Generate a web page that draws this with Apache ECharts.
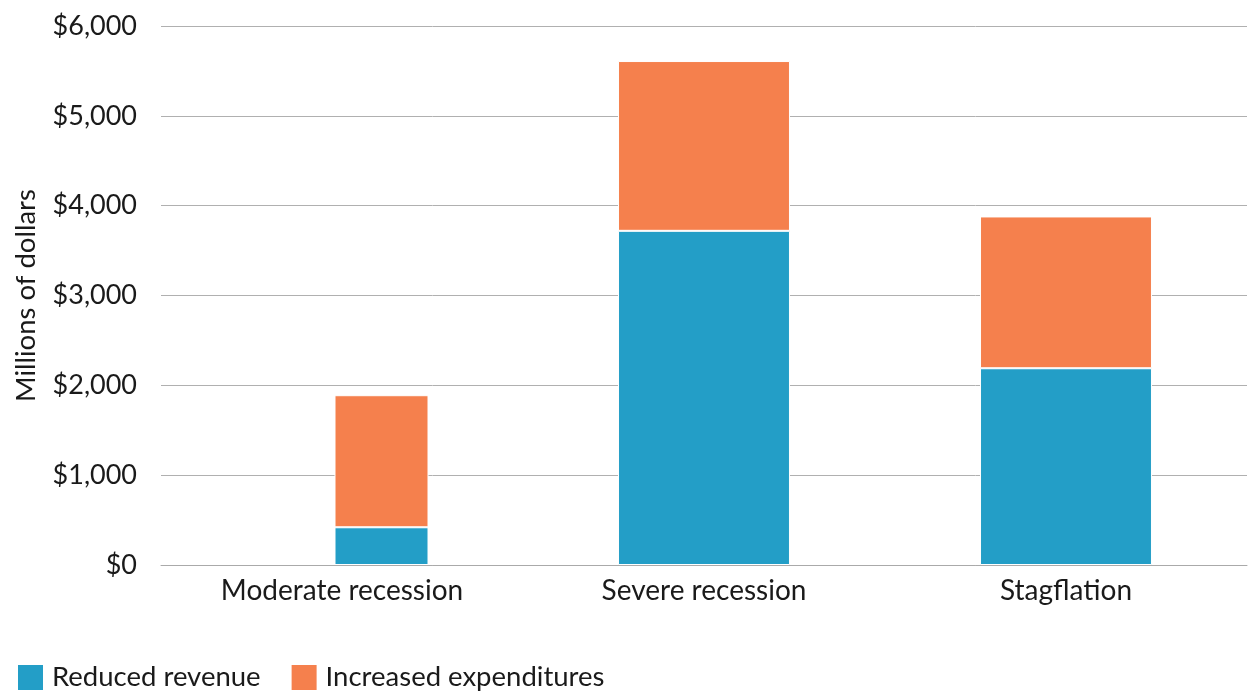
<!DOCTYPE html>
<html>
<head>
<meta charset="utf-8">
<style>
  html, body { margin: 0; padding: 0; background: #fff; }
  #chart { width: 1248px; height: 691px; }
</style>
<script src="https://cdn.jsdelivr.net/npm/echarts@6/dist/echarts.min.js"></script>
</head>
<body>
<div id="chart"></div>
<script>
// Budget impact by scenario, millions of dollars
const categories = ['Moderate recession', 'Severe recession', 'Stagflation'];
const reducedRevenue = [420, 3720, 2190];
const increasedExpenditures = [1470, 1890, 1690];
const yTicks = [0, 1000, 2000, 3000, 4000, 5000, 6000];

const BLUE = '#239ec7';
const ORANGE = '#f5804d';
const FONT = 'Lato, "Open Sans", sans-serif';
const TEXT = '#1a1a1a';

// The moderate scenario is drawn as a narrower column on an overlay axis
const onlyFirst = arr => arr.map((v, i) => (i === 0 ? v : null));
const skipFirst = arr => arr.map((v, i) => (i === 0 ? null : v));

const barStyle = color => ({ color: color, borderColor: '#ffffff', borderWidth: 1 });

const chart = echarts.init(document.getElementById('chart'), null, { renderer: 'canvas' });

chart.setOption({
  animation: false,
  textStyle: { fontFamily: FONT, color: TEXT },
  grid: { left: 161, right: 1, top: 26, bottom: 126, containLabel: false, outerBoundsMode: 'none' },
  legend: {
    left: 11,
    top: 658,
    itemWidth: 27,
    itemHeight: 27,
    itemGap: 29,
    icon: 'rect',
    textStyle: { fontFamily: FONT, fontSize: 27.5, color: TEXT, padding: [0, 0, 0, 3] },
    data: ['Reduced revenue', 'Increased expenditures']
  },
  xAxis: [
    {
      type: 'category',
      data: categories,
      axisLine: { lineStyle: { color: '#aaaaaa', width: 1 } },
      axisTick: { show: false },
      axisLabel: { fontFamily: FONT, fontSize: 28, color: TEXT, margin: 12 }
    },
    {
      type: 'category',
      data: categories,
      show: false,
      position: 'bottom'
    }
  ],
  yAxis: {
    type: 'value',
    min: yTicks[0],
    max: yTicks[yTicks.length - 1],
    interval: 1000,
    name: 'Millions of dollars',
    nameLocation: 'middle',
    nameGap: 121,
    nameRotate: 90,
    nameTextStyle: { fontFamily: FONT, fontSize: 27.5, color: TEXT },
    axisLine: { show: false },
    axisTick: { show: false },
    splitLine: { lineStyle: { color: '#b0b0b0', width: 1 } },
    axisLabel: {
      fontFamily: FONT,
      fontSize: 27,
      color: TEXT,
      margin: 24,
      formatter: v => '$' + v.toLocaleString('en-US')
    }
  },
  series: [
    {
      name: 'Reduced revenue',
      type: 'bar',
      stack: 'total',
      xAxisIndex: 0,
      barWidth: '47.5%',
      itemStyle: barStyle(BLUE),
      data: skipFirst(reducedRevenue)
    },
    {
      name: 'Increased expenditures',
      type: 'bar',
      stack: 'total',
      xAxisIndex: 0,
      barWidth: '47.5%',
      itemStyle: barStyle(ORANGE),
      data: skipFirst(increasedExpenditures)
    },
    {
      name: 'spacer',
      type: 'bar',
      stack: 'pad',
      xAxisIndex: 1,
      barWidth: 79,
      barGap: 0,
      itemStyle: { color: 'rgba(0,0,0,0)' },
      silent: true,
      data: categories.map(() => 0)
    },
    {
      name: 'Reduced revenue',
      type: 'bar',
      stack: 'moderate',
      xAxisIndex: 1,
      barWidth: 94,
      barGap: 0,
      itemStyle: barStyle(BLUE),
      data: onlyFirst(reducedRevenue)
    },
    {
      name: 'Increased expenditures',
      type: 'bar',
      stack: 'moderate',
      xAxisIndex: 1,
      barWidth: 94,
      barGap: 0,
      itemStyle: barStyle(ORANGE),
      data: onlyFirst(increasedExpenditures)
    }
  ]
});
</script>
</body>
</html>
